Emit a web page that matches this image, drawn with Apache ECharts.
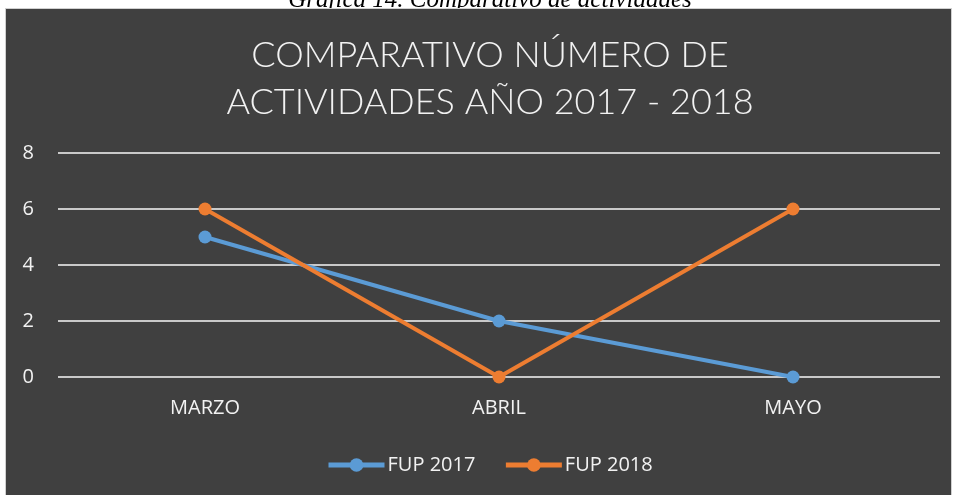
<!DOCTYPE html>
<html><head><meta charset="utf-8">
<script src="https://cdn.jsdelivr.net/npm/echarts@6/dist/echarts.min.js"></script>
<style>html,body{margin:0;padding:0;background:#fff}#c{width:956px;height:495px}</style>
</head><body><div id="c"></div>
<script>
const categories = ['MARZO', 'ABRIL', 'MAYO'];
const fup2017 = [5, 2, 0];
const fup2018 = [6, 0, 6];
const seriesNames = ['FUP 2017', 'FUP 2018'];
const titleLines = ['COMPARATIVO NÚMERO DE', 'ACTIVIDADES AÑO 2017 - 2018'];
const caption = 'Gráfica 14. Comparativo de actividades';

const chart = echarts.init(document.getElementById('c'), null, {renderer: 'canvas'});
const font = '"Open Sans", "Noto Sans", sans-serif';
chart.setOption({
  backgroundColor: '#ffffff',
  animation: false,
  graphic: [
    {type: 'text', z: -20, style: {x: 490, y: 13, text: caption, font: 'italic 25px "Liberation Serif", serif', fill: '#000', textAlign: 'center', textVerticalAlign: 'bottom'}},
    {type: 'rect', z: -10, shape: {x: 5.5, y: 8.5, width: 946, height: 490}, style: {fill: '#404040', stroke: '#d0d0d0', lineWidth: 1}}
  ],
  title: {
    text: titleLines.join('\n'),
    left: 485, top: 27, textAlign: 'center',
    textStyle: {color: '#f2f2f2', fontSize: 36, fontWeight: 300, fontFamily: '"Lato", "Open Sans", sans-serif', lineHeight: 47}
  },
  legend: {
    data: seriesNames,
    top: 450, left: 321,
    itemWidth: 56, itemHeight: 17, itemGap: 28,
    lineStyle: {width: 5},
    textStyle: {color: '#f2f2f2', fontSize: 20, fontFamily: font, padding: [0, 0, 0, -2]}
  },
  grid: {left: 58, right: 16, top: 153, bottom: 118},
  xAxis: {
    type: 'category', data: categories,
    axisLine: {show: false}, axisTick: {show: false},
    axisLabel: {color: '#f2f2f2', fontSize: 20, fontFamily: font, margin: 21}
  },
  yAxis: {
    type: 'value', min: 0, max: 8, interval: 2,
    axisLine: {show: false}, axisTick: {show: false},
    axisLabel: {color: '#f2f2f2', fontSize: 20, fontFamily: font, margin: 24, align: 'right'},
    splitLine: {lineStyle: {color: '#c9c9c9', width: 2}}
  },
  series: [
    {name: seriesNames[0], type: 'line', data: fup2017, symbol: 'circle', symbolSize: 13,
     itemStyle: {color: '#5b9bd5'}, lineStyle: {width: 4, color: '#5b9bd5'}},
    {name: seriesNames[1], type: 'line', data: fup2018, symbol: 'circle', symbolSize: 13,
     itemStyle: {color: '#ed7d31'}, lineStyle: {width: 4, color: '#ed7d31'}}
  ]
});
</script></body></html>
